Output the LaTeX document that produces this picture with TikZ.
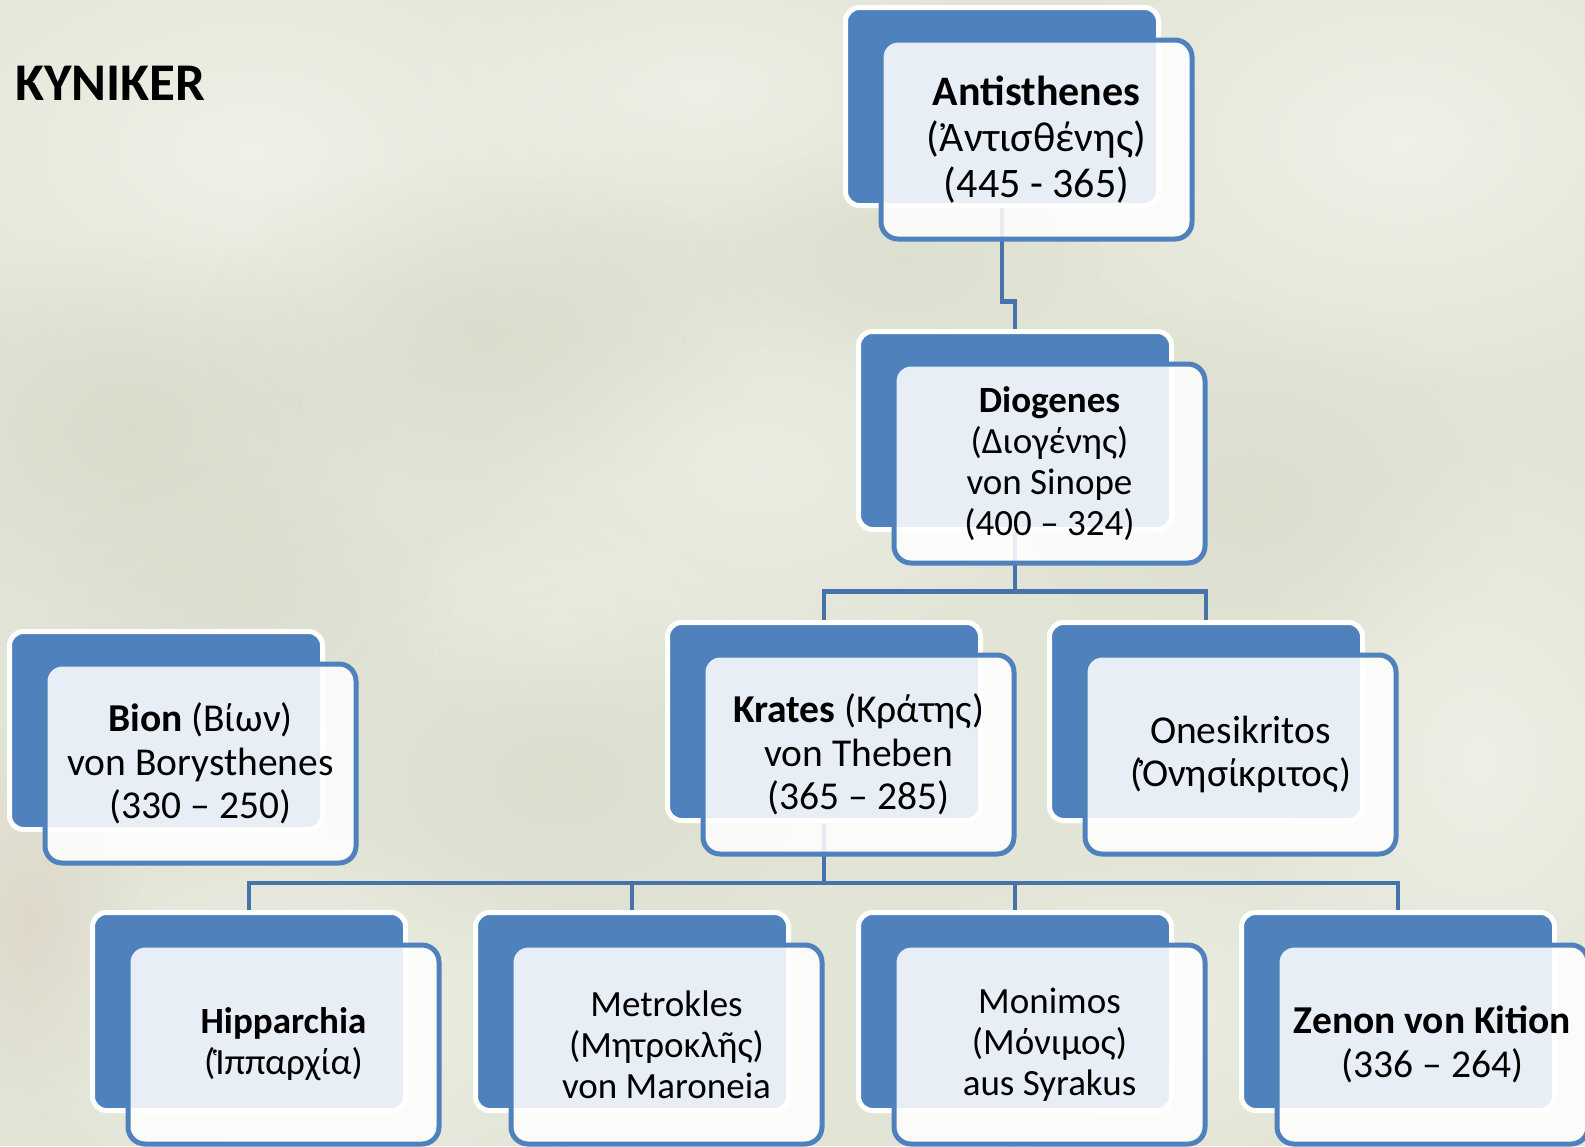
\documentclass[tikz,border=0pt]{standalone}
\usepackage{fontspec}
\setmainfont{Carlito}
\usetikzlibrary{fadings}

\pgfdeclarelayer{texture}
\pgfdeclarelayer{links}
\pgfsetlayers{texture,links,main}

\definecolor{tileblue}{HTML}{4F81BD}
\definecolor{linkblue}{HTML}{4673AB}
\definecolor{paper}{HTML}{E2E5D6}
\definecolor{paperlight}{HTML}{F1F2E9}
\definecolor{paperdark}{HTML}{D4D8C6}
\definecolor{paperwarm}{HTML}{DDD5C8}

% soft round spot, opaque in the middle and fading out to the rim
\tikzfading[name=softspot, inner color=transparent!0, outer color=transparent!100]

\tikzset{
  backbox/.style={draw=white, line width=5pt, fill=tileblue, rounded corners=14pt,
    minimum width=313pt, minimum height=198pt, inner sep=0pt, outer sep=0pt,
    anchor=north west},
  frontbox/.style={draw=tileblue, line width=5pt, fill=white, fill opacity=0.87,
    text opacity=1, rounded corners=17pt, minimum width=311pt, minimum height=199pt,
    inner sep=0pt, outer sep=0pt, align=flush center, text width=305pt,
    anchor=north west},
  treeline/.style={draw=linkblue, line width=4.5pt},
  fbig/.style={font=\fontsize{42}{46}\selectfont},
  fmid/.style={font=\fontsize{39.5}{43.5}\selectfont},
  fsmall/.style={font=\fontsize{37}{41}\selectfont},
}

% one philosopher tile: blue back card plus translucent front card
\newcommand\philo[5]{%
  \node[backbox] (#1b) at ({#2-2.5},{#3-2.5}) {};
  \node[frontbox,#4] (#1) at ({#2+33},{#3+30}) {#5};
}

\begin{document}
\begin{tikzpicture}[x=1pt,y=-1pt]
\useasboundingbox (0,0) rectangle (1585,1146);
\clip (0,0) rectangle (1585,1146);

% mottled paper background
\begin{pgfonlayer}{texture}
  \fill[paper] (0,0) rectangle (1585,1146);
  \foreach \px/\py/\rx/\ry/\c/\o in {
      250/150/420/260/paperlight/0.9, 700/90/320/160/paperlight/0.8,
      1400/140/380/260/paperlight/0.9, 1480/760/260/320/paperlight/0.8,
      760/470/300/200/paperlight/0.6, 320/1020/320/200/paperlight/0.7,
      1150/1010/280/160/paperlight/0.6, 560/620/200/120/paperlight/0.5,
      130/430/260/200/paperdark/0.7, 480/330/280/170/paperdark/0.6,
      1250/500/260/200/paperdark/0.5, 560/780/280/190/paperdark/0.5,
      250/600/200/140/paperdark/0.5, 30/920/110/200/paperwarm/0.8,
      900/260/200/120/paperdark/0.4}
    \fill[\c, opacity=\o, path fading=softspot]
      (\px,\py) ellipse ({\rx} and {\ry});
\end{pgfonlayer}

\node[font=\bfseries\fontsize{53}{58}\selectfont, anchor=base west, inner sep=0pt]
  (title) at (15,100) {KYNIKER};

\philo{ant}{848}{10}{fbig}{\textbf{Antisthenes}\\(Ἀντισθένης)\\(445 - 365)}
\philo{dio}{861}{334}{fsmall}{\textbf{Diogenes}\\(Διογένης)\\von Sinope\\(400 – 324)}
\philo{kra}{670}{625}{fmid}{\textbf{Krates} (Κράτης)\\von Theben\\(365 – 285)}
\philo{one}{1052}{625}{fmid}{Onesikritos\\(Ὀνησίκριτος)}
\philo{bion}{12}{634}{fmid}{\textbf{Bion} (Βίων)\\von Borysthenes\\(330 – 250)}
\philo{hip}{95}{915}{fsmall}{\textbf{Hipparchia}\\(Ἱππαρχία)}
\philo{met}{478}{915}{fsmall}{Metrokles\\(Μητροκλῆς)\\von Maroneia}
\philo{mon}{861}{915}{fsmall}{Monimos\\(Μόνιμος)\\aus Syrakus}
\philo{zen}{1244}{915}{fmid}{\textbf{Zenon von Kition}\\(336 – 264)}

% elbow connectors, running behind the cards
\begin{pgfonlayer}{links}
  \draw[treeline] (antb.south) |- ([yshift=30pt]diob.north) -- (diob.north);
  \foreach \c in {krab,oneb}
    \draw[treeline] (diob.south) |- ([yshift=31pt]\c.north) -- (\c.north);
  \foreach \c in {hipb,metb,monb,zenb}
    \draw[treeline] (krab.south) |- ([yshift=29.5pt]\c.north) -- (\c.north);
\end{pgfonlayer}
\end{tikzpicture}
\end{document}
